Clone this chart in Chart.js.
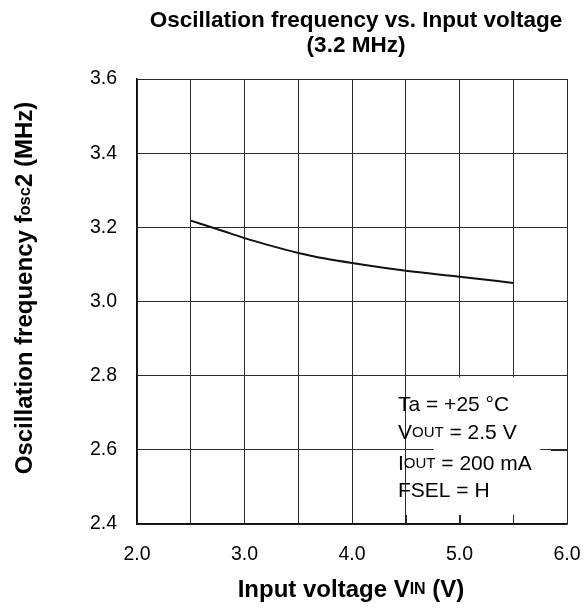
<!DOCTYPE html>
<html><head><meta charset="utf-8">
<script src="https://cdn.jsdelivr.net/npm/chart.js@4.4.1/dist/chart.umd.min.js"></script>
<style>html,body{margin:0;padding:0;background:#fff}#wrap{width:586px;height:610px}</style>
</head><body><div id="wrap"><canvas id="c" width="586" height="610"></canvas></div>
<script>
const vin = [2.5, 2.75, 3.0, 3.25, 3.5, 3.75, 4.0, 4.5, 5.0, 5.5];
const fosc = [3.218, 3.195, 3.171, 3.150, 3.131, 3.116, 3.104, 3.083, 3.067, 3.050];
const yTicks = [2.4, 2.6, 2.8, 3.0, 3.2, 3.4, 3.6];
const xTicks = [2.0, 3.0, 4.0, 5.0, 6.0];
const xGrid = [2.0, 2.5, 3.0, 3.5, 4.0, 4.5, 5.0, 5.5, 6.0];
const titleLines = ["Oscillation frequency vs. Input voltage", "(3.2 MHz)"];
const conditions = [
  [["Ta = +25 °C", 21]],
  [["V", 21], ["OUT", 15], [" = 2.5 V", 21]],
  [["I", 21], ["OUT", 15], [" = 200 mA", 21]],
  [["FSEL = H", 21]]
];
const FONT = "'Liberation Sans', Arial, sans-serif";

function drawRuns(ctx, runs, x, y, align, bold) {
  let total = 0;
  const w = runs.map(r => { ctx.font = (bold ? 'bold ' : '') + r[1] + 'px ' + FONT; const m = ctx.measureText(r[0]).width; total += m; return m; });
  let cx = align === 'center' ? x - total / 2 : x;
  runs.forEach((r, i) => {
    ctx.font = (bold ? 'bold ' : '') + r[1] + 'px ' + FONT;
    ctx.fillText(r[0], cx, y);
    cx += w[i];
  });
}

const textPlugin = {
  id: 'texts',
  beforeDatasetsDraw(chart) {
    const ctx = chart.ctx, xs = chart.scales.x, ys = chart.scales.y;
    const bx0 = xs.getPixelForValue(4.76), bx1 = xs.getPixelForValue(5.75);
    const by0 = ys.getPixelForValue(2.795), by1 = ys.getPixelForValue(2.425);
    ctx.save();
    ctx.fillStyle = '#fff';
    ctx.fillRect(bx0, by0, bx1 - bx0, by1 - by0);
    ctx.strokeStyle = '#222'; ctx.lineWidth = 1;
    [4.5, 5.0, 5.5].forEach(v => {
      const px = Math.round(xs.getPixelForValue(v)) + 0.5;
      ctx.beginPath(); ctx.moveTo(px, ys.bottom); ctx.lineTo(px, ys.bottom - 9); ctx.stroke();
    });
    [2.6].forEach(v => {
      const py = Math.round(ys.getPixelForValue(v)) + 0.5;
      ctx.beginPath(); ctx.moveTo(xs.right, py); ctx.lineTo(xs.right - 16, py); ctx.stroke();
    });
    ctx.restore();
  },
  afterDraw(chart) {
    const ctx = chart.ctx, xs = chart.scales.x, ys = chart.scales.y;
    ctx.save();
    ctx.fillStyle = '#000';
    ctx.textBaseline = 'middle';
    ctx.textAlign = 'left';
    const cx = (xs.left + xs.right) / 2 + 4;
    drawRuns(ctx, [[titleLines[0], 22.5]], cx, 21, 'center', true);
    drawRuns(ctx, [[titleLines[1], 22.5]], cx, 46, 'center', true);
    drawRuns(ctx, [["Input voltage V", 24], ["IN", 16], [" (V)", 24]], 351, 590, 'center', true);
    ctx.save();
    ctx.translate(25, 288);
    ctx.rotate(-Math.PI / 2);
    drawRuns(ctx, [["Oscillation frequency f", 24], ["osc", 16.5], ["2 (MHz)", 24]], 0, 0, 'center', true);
    ctx.restore();
    const lx = 398, ly = [405, 433, 464, 491];
    conditions.forEach((runs, i) => drawRuns(ctx, runs, lx, ly[i], 'left', false));
    ctx.restore();
  }
};

new Chart(document.getElementById('c'), {
  type: 'line',
  data: {
    datasets: [{
      data: vin.map((v, i) => ({ x: v, y: fosc[i] })),
      borderColor: '#111', borderWidth: 2, pointRadius: 0, cubicInterpolationMode: 'monotone', fill: false
    }]
  },
  options: {
    responsive: false, animation: false, devicePixelRatio: 1,
    layout: { padding: { left: 0, right: 19, top: 79, bottom: 0 } },
    plugins: { legend: { display: false }, title: { display: false }, tooltip: { enabled: false } },
    scales: {
      x: {
        type: 'linear', min: 2, max: 6,
        afterFit(s) { s.height = 86; s.paddingLeft = 0; s.paddingRight = 0; },
        afterBuildTicks(s) { s.ticks = xGrid.map(v => ({ value: v })); },
        ticks: {
          autoSkip: false, maxRotation: 0, color: '#000', padding: 19,
          font: { family: FONT, size: 19.5 },
          callback(v) { return xTicks.includes(v) ? v.toFixed(1) : ''; }
        },
        grid: { color: '#2a2a2a', lineWidth: 1, drawTicks: false },
        border: { color: '#111', width: 1.5 }
      },
      y: {
        type: 'linear', min: 2.4, max: 3.6,
        afterFit(s) { s.width = 137; s.paddingTop = 0; s.paddingBottom = 0; },
        afterBuildTicks(s) { s.ticks = yTicks.map(v => ({ value: v })); },
        ticks: {
          color: '#000', padding: 20, font: { family: FONT, size: 19.5 },
          callback(v) { return v.toFixed(1); }
        },
        grid: { color: '#2a2a2a', lineWidth: 1, drawTicks: false },
        border: { color: '#111', width: 1.5 }
      }
    }
  },
  plugins: [textPlugin]
});
</script></body></html>
